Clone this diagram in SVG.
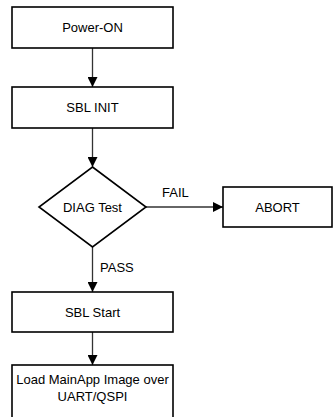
<svg xmlns="http://www.w3.org/2000/svg" width="333" height="417" viewBox="0 0 333 417">
<style>
.box{fill:#fff;stroke:#000;stroke-width:1.6}
.t{font-family:"Liberation Sans",Arial,sans-serif;font-size:13px;fill:#000;text-anchor:middle}
.l{font-family:"Liberation Sans",Arial,sans-serif;font-size:13px;fill:#000}
.c{stroke:#333;stroke-width:1.3;fill:none}
</style>
<defs>
<marker id="ah" markerWidth="10" markerHeight="10" refX="10" refY="5" orient="auto" markerUnits="userSpaceOnUse">
<path d="M0,0 L10,5 L0,10 Z" fill="#000"/>
</marker>
</defs>
<rect width="333" height="417" fill="#fff"/>
<g id="connectors">
<line class="c" x1="92.5" y1="48" x2="92.5" y2="87" marker-end="url(#ah)"/>
<line class="c" x1="92.5" y1="128" x2="92.5" y2="167" marker-end="url(#ah)"/>
<line class="c" x1="146" y1="207" x2="223" y2="207" marker-end="url(#ah)"/>
<line class="c" x1="92.5" y1="247" x2="92.5" y2="292" marker-end="url(#ah)"/>
<line class="c" x1="92.5" y1="332" x2="92.5" y2="365" marker-end="url(#ah)"/>
<text class="l" x="162" y="197">FAIL</text>
<text class="l" x="100" y="272">PASS</text>
</g>
<g id="power-on">
<rect class="box" x="12" y="7" width="161" height="41"/>
<text class="t" x="92.5" y="32">Power-ON</text>
</g>
<g id="sbl-init">
<rect class="box" x="12" y="87" width="161" height="41"/>
<text class="t" x="92.5" y="112">SBL INIT</text>
</g>
<g id="diag-test">
<path class="box" d="M92.5,167 L146,207 L92.5,247 L39,207 Z"/>
<text class="t" x="92.5" y="212">DIAG Test</text>
</g>
<g id="abort">
<rect class="box" x="223" y="187" width="109" height="40"/>
<text class="t" x="277.5" y="212">ABORT</text>
</g>
<g id="sbl-start">
<rect class="box" x="12" y="292" width="161" height="40"/>
<text class="t" x="92.5" y="317">SBL Start</text>
</g>
<g id="load">
<rect class="box" x="12" y="365" width="161" height="60"/>
<text class="t" x="92.5" y="384">Load MainApp Image over</text>
<text class="t" x="92.5" y="401">UART/QSPI</text>
</g>
</svg>
